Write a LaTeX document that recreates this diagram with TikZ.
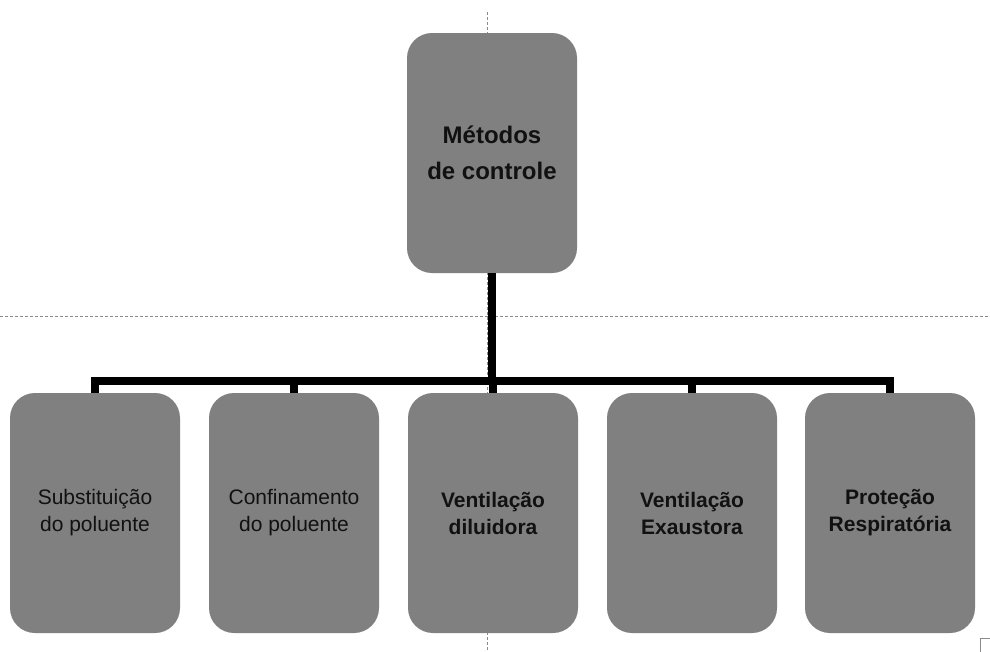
\documentclass[tikz,border=0pt]{standalone}
\usepackage{fontspec}
\setmainfont{Liberation Sans}
\begin{document}
\begin{tikzpicture}[x=1pt,y=-1pt,
  box/.style={fill=boxgrey, draw=none, rounded corners=25pt, minimum width=170pt, minimum height=240pt, inner sep=0pt, align=center, text=textdark},
  smalltxt/.style={font=\fontsize{21}{27}\selectfont},
  smallbold/.style={font=\fontsize{21}{27}\selectfont\bfseries},
  toptxt/.style={font=\fontsize{24}{36}\selectfont\bfseries},
  conn/.style={line width=8pt, draw=black, line join=miter},
  guide/.style={draw=guidegrey, line width=1pt, dash pattern=on 3pt off 2pt}
]
\definecolor{boxgrey}{HTML}{808080}
\definecolor{textdark}{HTML}{111111}
\definecolor{guidegrey}{HTML}{8A8A8A}
\useasboundingbox (0,0) rectangle (990,651);
% guide lines
\coordinate (gtop) at (487,12);
\coordinate (gbot) at (487,651);
\coordinate (gleft) at (0,316);
\coordinate (gright) at (990,316);
\draw[guide] (gtop) -- (gbot);
\draw[guide] (gleft) -- (gright);
% nodes
\node[box, toptxt] (top) at (492,153) {Métodos\\de controle};
\node[box, smalltxt] (n1) at (95,513) {Substituição\\do poluente};
\node[box, smalltxt] (n2) at (294,513) {Confinamento\\do poluente};
\node[box, smallbold] (n3) at (493,513) {Ventilação\\diluidora};
\node[box, smallbold] (n4) at (692,513) {Ventilação\\Exaustora};
\node[box, smallbold] (n5) at (890,513) {Proteção\\Respiratória};
% connectors
\coordinate (bar) at (0,380.5);
\foreach \n in {n1,n2,n3,n4,n5}{
  \draw[conn] (top.south) -- (top.south |- bar) -| (\n.north);
}
% small paste icon
\coordinate (icon) at (980,638);
\draw[draw=guidegrey, line width=1pt, fill=white] (icon) rectangle ++(14,14);
\end{tikzpicture}
\end{document}
